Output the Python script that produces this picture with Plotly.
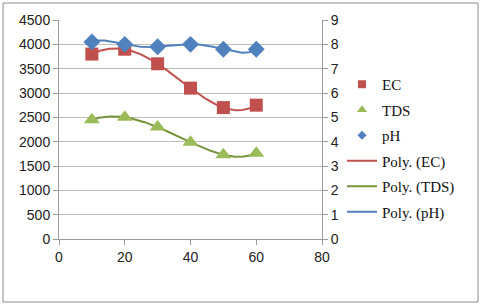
import numpy as np
import plotly.graph_objects as go

x_vals = [10, 20, 30, 40, 50, 60]
ec_vals = [3800, 3900, 3600, 3100, 2700, 2750]
tds_vals = [2450, 2500, 2300, 1990, 1730, 1760]
ph_vals = [8.1, 8.0, 7.9, 8.0, 7.8, 7.8]
poly_order = 5

RED = "#C0504D"
GREEN = "#9BBB59"
GREEN_LINE = "#77933C"
BLUE = "#4F81BD"

W, H = 480, 305
ML, MR, MT, MB = 59, 158, 20, 66

xs = np.linspace(min(x_vals), max(x_vals), 300)
def poly(y, deg):
    c = np.polyfit(x_vals, y, deg)
    return np.polyval(c, xs)

fig = go.Figure()
# trend lines (drawn beneath markers)
fig.add_trace(go.Scatter(x=xs, y=poly(ec_vals, poly_order), mode="lines", name="Poly. (EC)",
    line=dict(color=RED, width=2), legendgroup="d", legendrank=4, hoverinfo="skip"))
fig.add_trace(go.Scatter(x=xs, y=poly(tds_vals, poly_order), mode="lines", name="Poly. (TDS)",
    line=dict(color=GREEN_LINE, width=2), legendgroup="e", legendrank=5, hoverinfo="skip"))
fig.add_trace(go.Scatter(x=xs, y=poly(ph_vals, poly_order), mode="lines", name="Poly. (pH)",
    line=dict(color=BLUE, width=2), yaxis="y2", legendgroup="f", legendrank=6, hoverinfo="skip"))
# data markers
fig.add_trace(go.Scatter(x=x_vals, y=ec_vals, mode="markers", name="EC", showlegend=False,
    marker=dict(symbol="square", size=13, color=RED)))
fig.add_trace(go.Scatter(x=x_vals, y=tds_vals, mode="markers", name="TDS", showlegend=False,
    marker=dict(symbol="triangle-up", size=14, color=GREEN)))
fig.add_trace(go.Scatter(x=x_vals, y=ph_vals, mode="markers", name="pH", showlegend=False,
    marker=dict(symbol="diamond", size=13, color=BLUE), yaxis="y2"))
# legend entries with smaller symbols
fig.add_trace(go.Scatter(x=[None], y=[None], mode="markers", name="EC",
    marker=dict(symbol="square", size=8, color=RED), legendgroup="a", legendrank=1))
fig.add_trace(go.Scatter(x=[None], y=[None], mode="markers", name="TDS",
    marker=dict(symbol="triangle-up", size=9, color=GREEN), legendgroup="b", legendrank=2))
fig.add_trace(go.Scatter(x=[None], y=[None], mode="markers", name="pH",
    marker=dict(symbol="diamond", size=7, color=BLUE), legendgroup="c", legendrank=3))

pw = W - ML - MR
ph = H - MT - MB
fig.add_shape(type="rect", xref="paper", yref="paper",
    x0=(3 - ML) / pw, x1=(478 - ML) / pw, y0=(H - MB - 302) / ph, y1=(H - MB - 3) / ph,
    line=dict(color="#8c8c8c", width=1), layer="below")

tickfont = dict(family="Liberation Sans, Arial, sans-serif", size=14, color="#222")
axis_common = dict(zeroline=False, showline=True, linecolor="#9a9a9a", ticks="outside",
    ticklen=5, tickcolor="#9a9a9a", tickfont=tickfont, fixedrange=True)
fig.update_layout(
    width=W, height=H,
    margin=dict(l=ML, r=MR, t=MT, b=MB),
    paper_bgcolor="white", plot_bgcolor="white",
    showlegend=True,
    legend=dict(x=(342 - ML) / pw, y=(H - MB - 68) / ph, xanchor="left", yanchor="top",
        font=dict(family="Liberation Serif, Times New Roman, serif", size=15, color="#111"),
        traceorder="grouped", tracegroupgap=3, bgcolor="rgba(0,0,0,0)", borderwidth=0),
    xaxis=dict(range=[0, 80], dtick=20, tick0=0, showgrid=False, **axis_common),
    yaxis=dict(range=[0, 4500], dtick=500, tick0=0, showgrid=True, gridcolor="#bdbdbd",
        **axis_common),
    yaxis2=dict(range=[0, 9], dtick=1, tick0=0, overlaying="y", side="right",
        showgrid=False, **axis_common),
)

fig.write_html("out.html", config={"displayModeBar": False},
    post_script="document.body.style.margin='0';document.body.style.overflow='hidden';")
